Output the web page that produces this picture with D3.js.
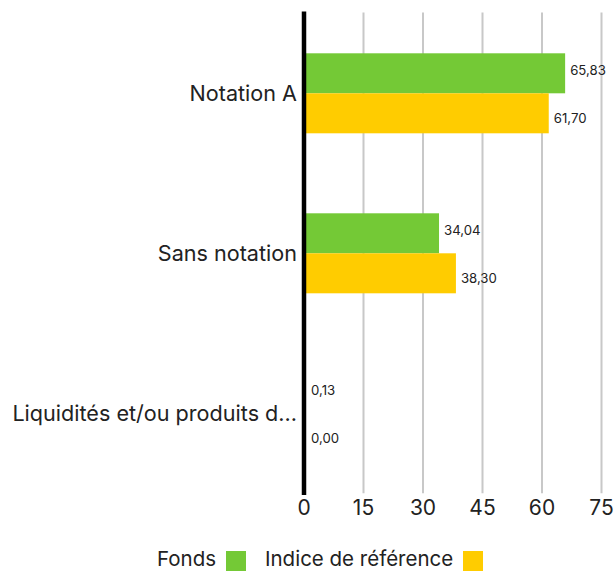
<!DOCTYPE html>
<html>
<head>
<meta charset="utf-8">
<script src="https://cdn.jsdelivr.net/npm/d3@7"></script>
<style>
body{margin:0;background:#fff;}
text{font-family:Inter,sans-serif;fill:#222;}
</style>
</head>
<body>
<svg id="chart" width="615" height="572"></svg>
<script>
var categories = ["Notation A","Sans notation","Liquidités et/ou produits d..."]
var series = ["Fonds","Indice de référence"]
var fonds = [65.83,34.04,0.13]
var indice = [61.70,38.30,0.00]
var ticks = [0,15,30,45,60,75]
var colors = ["#74c936","#ffcc00"]

var svg = d3.select("#chart")
var x = d3.scaleLinear().domain([0,75]).range([304,601.5])
var y = d3.scaleBand().domain(categories).range([13.3,493.3]).paddingInner(0.5).paddingOuter(0.25)
var y2 = d3.scaleBand().domain(series).range([0,y.bandwidth()])

// grid
svg.append("g")
   .selectAll("line")
   .data(ticks.slice(1))
   .enter().append("line")
   .attr("x1",d=>x(d)).attr("x2",d=>x(d))
   .attr("y1",12.5).attr("y2",493.3)
   .attr("stroke","#c8c8c8")
   .attr("stroke-width",2)

var rows = categories.map((c,i)=>({cat:c,vals:[fonds[i],indice[i]]}))

var groups = svg.append("g")
   .selectAll(".grp")
   .data(rows)
   .enter().append("g")
   .attr("transform",d=>`translate(0,${y(d.cat)})`)

groups.selectAll("rect")
   .data(d=>d.vals.map((v,j)=>({s:series[j],v:v,j:j})))
   .enter().append("rect")
   .attr("x",x(0))
   .attr("y",d=>y2(d.s))
   .attr("width",d=>x(d.v)-x(0))
   .attr("height",y2.bandwidth())
   .attr("fill",d=>colors[d.j])

// value labels sit a little off the bar centre, outward
groups.selectAll(".val")
   .data(d=>d.vals.map((v,j)=>({s:series[j],v:v,j:j})))
   .enter().append("text")
   .attr("x",d=>Math.max(x(d.v),306)+5)
   .attr("y",d=>y2(d.s)+y2.bandwidth()/2+(d.j===0?-2.5:5))
   .attr("dy","0.35em")
   .attr("font-size","13.2px")
   .text(d=>d.v.toFixed(2).replace(".",","))

// category labels
svg.append("g")
   .selectAll("text")
   .data(categories)
   .enter().append("text")
   .attr("x",297)
   .attr("y",d=>y(d)+y.bandwidth()/2)
   .attr("dy","0.35em")
   .attr("font-size","21.6px")
   .style("text-anchor","end")
   .text(d=>d)

// axis line
svg.append("line")
   .attr("x1",x(0)).attr("x2",x(0))
   .attr("y1",11.5).attr("y2",495)
   .attr("stroke","#000")
   .attr("stroke-width",4.5)

// tick labels
svg.append("g")
   .selectAll("text")
   .data(ticks)
   .enter().append("text")
   .attr("x",d=>x(d))
   .attr("y",515)
   .attr("font-size","21px")
   .style("text-anchor","middle")
   .text(d=>d)

// legend
var legend = svg.append("g")
var lx = [157,265]
var sx = [226,463]
series.forEach((s,i)=>{
  legend.append("text")
     .attr("x",lx[i]).attr("y",566)
     .attr("font-size","20.5px")
     .text(s)
  legend.append("rect")
     .attr("x",sx[i]).attr("y",551)
     .attr("width",20).attr("height",20)
     .attr("fill",colors[i])
})
</script>
</body>
</html>
